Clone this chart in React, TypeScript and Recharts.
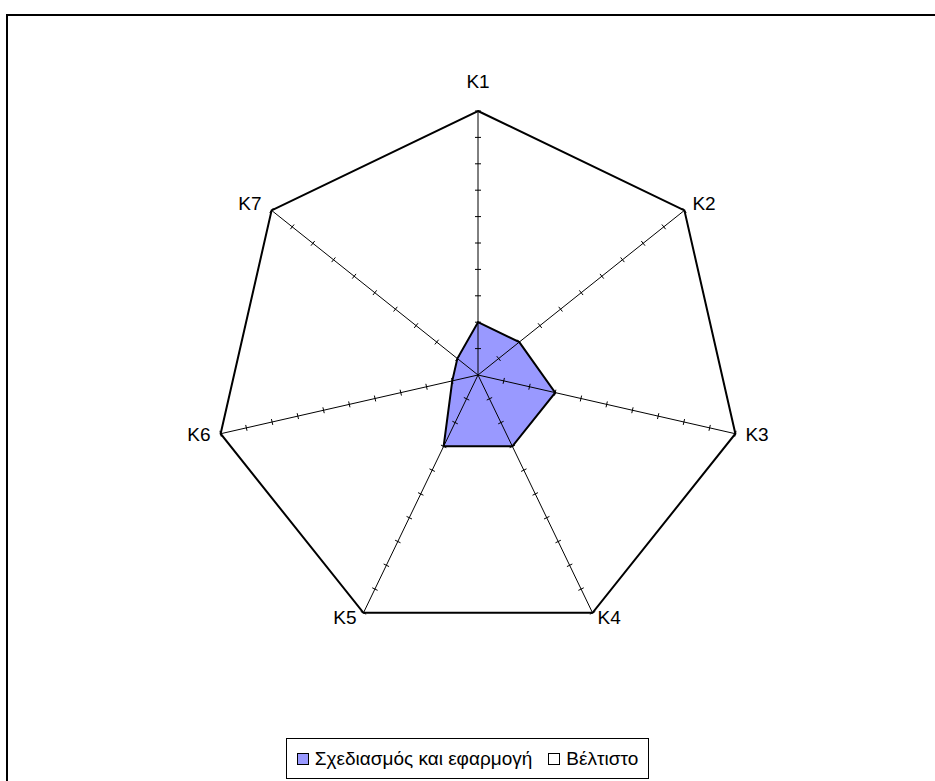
import React from 'react';
import { RadarChart, Radar, PolarAngleAxis, PolarRadiusAxis, Legend } from 'recharts';

const CATEGORIES = ['K1', 'K2', 'K3', 'K4', 'K5', 'K6', 'K7'];
const DESIGN_VALUES = [2, 2, 3, 3, 3, 1, 1];
const OPTIMUM_VALUES = [10, 10, 10, 10, 10, 10, 10];
const RADIUS_DOMAIN = [0, 10];
const SERIES_DESIGN = 'Σχεδιασμός και εφαρμογή';
const SERIES_OPTIMUM = 'Βέλτιστο';

const data = CATEGORIES.map((k, i) => ({ k, design: DESIGN_VALUES[i], optimum: OPTIMUM_VALUES[i] }));

const W = 935;
const H = 781;
const CX = 478;
const CY = 375;
const R = 264;
const FONT = '"Liberation Sans", Arial, sans-serif';

const AngleTick = (props: any) => {
  const { payload } = props;
  const a = ((payload.coordinate ?? 90) * Math.PI) / 180;
  const c = Math.cos(a);
  const s = Math.sin(a);
  const x = CX + R * c;
  const y = CY - R * s;
  let anchor: 'start' | 'middle' | 'end' = 'middle';
  let ox = 0;
  let oy = 0;
  if (s > 0.9) {
    anchor = 'middle';
    oy = -23;
  } else if (s > 0.5) {
    anchor = c > 0 ? 'start' : 'end';
    ox = c > 0 ? 8 : -10;
    oy = 0;
  } else if (s >= -0.5) {
    anchor = c > 0 ? 'start' : 'end';
    ox = c > 0 ? 10 : -10;
    oy = 7;
  } else {
    anchor = c > 0 ? 'start' : 'end';
    ox = c > 0 ? 5 : -7;
    oy = 11;
  }
  return (
    <text x={x + ox} y={y + oy} textAnchor={anchor} fontSize={19} fontFamily={FONT} fill="#000">
      {payload.value}
    </text>
  );
};

const RadiusTick = (props: any) => {
  const { x, y } = props;
  const r = Math.hypot(x - CX, y - CY);
  if (r < 1) return <g />;
  const n = CATEGORIES.length;
  return (
    <g>
      {CATEGORIES.map((c, i) => {
        const a = ((90 - (i * 360) / n) * Math.PI) / 180;
        const px = CX + r * Math.cos(a);
        const py = CY - r * Math.sin(a);
        const tx = Math.sin(a) * 3;
        const ty = Math.cos(a) * 3;
        return <line key={c} x1={px - tx} y1={py - ty} x2={px + tx} y2={py + ty} stroke="#000" strokeWidth={1} />;
      })}
    </g>
  );
};

const LegendContent = () => (
  <div style={{ display: 'flex', justifyContent: 'center' }}>
    <div
      style={{
        display: 'inline-flex',
        alignItems: 'center',
        border: '1px solid #000',
        height: 41,
        padding: '0 10px',
        fontFamily: FONT,
        fontSize: 19,
        color: '#000',
        background: '#fff',
        boxSizing: 'border-box',
      }}
    >
      <span style={{ width: 12, height: 12, border: '1px solid #000', background: '#9999FF', marginRight: 6, boxSizing: 'border-box' }} />
      <span>{SERIES_DESIGN}</span>
      <span style={{ width: 12, height: 12, border: '1px solid #000', background: '#fff', marginLeft: 16, marginRight: 6, boxSizing: 'border-box' }} />
      <span>{SERIES_OPTIMUM}</span>
    </div>
  </div>
);

export default function App() {
  return (
    <div style={{ position: 'absolute', left: 0, top: 0, width: W, height: H, background: '#fff', overflow: 'hidden' }}>
      <div
        style={{
          position: 'absolute',
          left: 6,
          top: 14,
          width: W - 6,
          height: H - 14,
          borderLeft: '2px solid #000',
          borderTop: '2px solid #000',
          boxSizing: 'border-box',
        }}
      />
      <div style={{ position: 'absolute', left: 0, top: 0 }}>
        <RadarChart width={W} height={H} data={data} cx={CX} cy={CY} outerRadius={R} margin={{ top: 0, right: 0, bottom: 0, left: 0 }}>
          <Radar
            name={SERIES_DESIGN}
            dataKey="design"
            stroke="#000"
            strokeWidth={2}
            fill="#9999FF"
            fillOpacity={1}
            isAnimationActive={false}
          />
          <Radar
            name={SERIES_OPTIMUM}
            dataKey="optimum"
            stroke="#000"
            strokeWidth={2}
            fill="none"
            fillOpacity={0}
            isAnimationActive={false}
          />
          <PolarAngleAxis
            dataKey="k"
            axisLine={false}
            orientation="inner"
            tickSize={R}
            tickLine={{ stroke: '#000', strokeWidth: 1 }}
            tick={AngleTick}
          />
          <PolarRadiusAxis angle={90} domain={RADIUS_DOMAIN} tickCount={11} axisLine={false} tick={RadiusTick} />
          <Legend
            content={LegendContent}
            wrapperStyle={{ position: 'absolute', left: 0, top: 738, width: W, bottom: 'auto' }}
          />
        </RadarChart>
      </div>
    </div>
  );
}
